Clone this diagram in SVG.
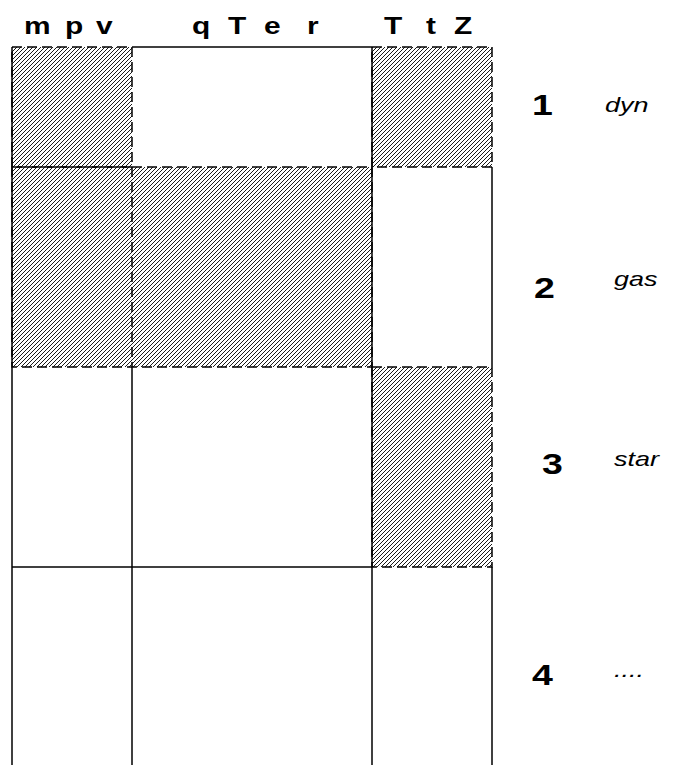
<svg xmlns="http://www.w3.org/2000/svg" width="673" height="765" viewBox="0 0 673 765">
<style>
.hdr{font-family:"Liberation Sans",Arial,sans-serif;font-weight:bold;font-size:23px;fill:#000}
.num{font-family:"Liberation Sans",Arial,sans-serif;font-weight:bold;font-size:30px;fill:#000}
.lbl{font-family:"Liberation Sans",Arial,sans-serif;font-style:italic;font-size:20px;fill:#000}
.solid{stroke:#000;stroke-width:1.5;fill:none}
.dash{stroke:#000;stroke-width:1.5;stroke-dasharray:10 5;fill:none}
.hatch{fill:url(#hatch)}
</style>
<defs>
<pattern id="hatch" patternUnits="userSpaceOnUse" width="4" height="4">
<path d="M-1,1 L1,-1 M0,4 L4,0 M3,5 L5,3" stroke="#000" stroke-width="0.9"/>
</pattern>
</defs>
<rect width="673" height="765" fill="#fff"/>
<g id="headers">
<text class="hdr" transform="translate(24,34) scale(1.3,1)">m</text>
<text class="hdr" transform="translate(65,34) scale(1.3,1)">p</text>
<text class="hdr" transform="translate(96,34) scale(1.3,1)">v</text>
<text class="hdr" transform="translate(192,34) scale(1.3,1)">q</text>
<text class="hdr" transform="translate(228,34) scale(1.3,1)">T</text>
<text class="hdr" transform="translate(264,34) scale(1.3,1)">e</text>
<text class="hdr" transform="translate(307,34) scale(1.3,1)">r</text>
<text class="hdr" transform="translate(384,34) scale(1.3,1)">T</text>
<text class="hdr" transform="translate(426,34) scale(1.3,1)">t</text>
<text class="hdr" transform="translate(454,34) scale(1.3,1)">Z</text>
</g>
<g id="cell-r1c1"><rect class="hatch" x="12" y="47" width="120" height="120"/><rect class="dash" x="12" y="47" width="120" height="120"/></g>
<g id="cell-r1c3"><rect class="hatch" x="372" y="47" width="120" height="120"/><rect class="dash" x="372" y="47" width="120" height="120"/></g>
<g id="cell-r2c12"><rect class="hatch" x="12" y="167" width="360" height="200"/><rect class="dash" x="12" y="167" width="360" height="200"/><line class="dash" x1="132" y1="167" x2="132" y2="367"/></g>
<g id="cell-r3c3"><rect class="hatch" x="372" y="367" width="120" height="200"/><rect class="dash" x="372" y="367" width="120" height="200"/></g>
<g id="grid">
<line class="solid" x1="12" y1="47" x2="12" y2="765"/>
<line class="solid" x1="132" y1="367" x2="132" y2="765"/>
<line class="solid" x1="372" y1="47" x2="372" y2="765"/>
<line class="solid" x1="492" y1="167" x2="492" y2="367"/>
<line class="solid" x1="492" y1="567" x2="492" y2="765"/>
<line class="solid" x1="132" y1="47" x2="372" y2="47"/>
<line class="solid" x1="12" y1="567" x2="372" y2="567"/>
</g>
<g id="row-labels">
<text class="num" transform="translate(532,115) scale(1.25,1)">1</text>
<text class="lbl" transform="translate(605,112) scale(1.35,1)">dyn</text>
<text class="num" transform="translate(534,298) scale(1.25,1)">2</text>
<text class="lbl" transform="translate(614,286) scale(1.35,1)">gas</text>
<text class="num" transform="translate(542,474) scale(1.25,1)">3</text>
<text class="lbl" transform="translate(614,466) scale(1.35,1)">star</text>
<text class="num" transform="translate(532,685) scale(1.25,1)">4</text>
<text class="lbl" transform="translate(614,677) scale(1.35,1)">....</text>
</g>
</svg>
